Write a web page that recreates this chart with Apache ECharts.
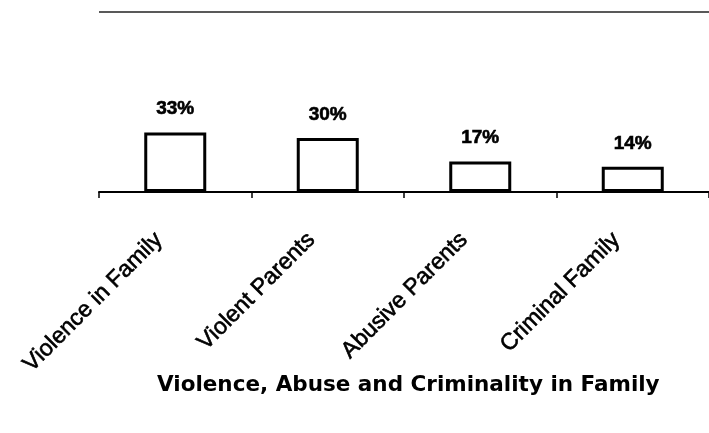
<!DOCTYPE html>
<html>
<head>
<meta charset="utf-8">
<script src="https://cdn.jsdelivr.net/npm/echarts@6/dist/echarts.min.js"></script>
<style>
  html, body { margin: 0; padding: 0; background: #fff; }
  #chart { width: 709px; height: 433px; }
</style>
</head>
<body>
<div id="chart"></div>
<script>
// Share of cases with each family background factor (percent)
const categories = ['Violence in Family', 'Violent Parents', 'Abusive Parents', 'Criminal Family'];
const percentValues = [33, 30, 17, 14];
const chartTitle = 'Violence, Abuse and Criminality in Family';

const chart = echarts.init(document.getElementById('chart'), null, { renderer: 'canvas' });

chart.setOption({
  animation: false,
  backgroundColor: '#ffffff',
  title: {
    text: chartTitle,
    left: 152,
    top: 369,
    textStyle: {
      fontFamily: 'DejaVu Sans',
      fontWeight: 'bold',
      fontSize: 21.5,
      color: '#000'
    }
  },
  grid: { left: 99, top: 12, width: 612, height: 180, containLabel: false },
  xAxis: {
    type: 'category',
    data: categories,
    boundaryGap: true,
    axisLine: { show: true, lineStyle: { color: '#000', width: 2 } },
    axisTick: { show: true, length: 6, lineStyle: { color: '#000', width: 1.5 } },
    axisLabel: {
      rotate: 45,
      interval: 0,
      margin: 28,
      padding: [0, 23, 0, 0],
      fontFamily: 'Liberation Sans, Arial, sans-serif',
      fontSize: 23,
      color: '#000',
      textBorderColor: '#000',
      textBorderWidth: 0.6
    }
  },
  yAxis: {
    type: 'value',
    min: 0,
    max: 100,
    interval: 100,
    axisLine: { show: false },
    axisTick: { show: false },
    axisLabel: { show: false },
    splitLine: { show: true, lineStyle: { color: '#222', width: 1.5 } }
  },
  series: [{
    type: 'bar',
    data: percentValues,
    barWidth: 62,
    itemStyle: { color: '#fff', borderColor: '#000', borderWidth: 3 },
    label: {
      show: true,
      position: 'top',
      distance: 14,
      formatter: p => p.value + '%',
      fontFamily: 'Liberation Sans, Arial, sans-serif',
      fontWeight: 'bold',
      fontSize: 19,
      color: '#000',
      textBorderColor: '#000',
      textBorderWidth: 0.6
    }
  }]
});
</script>
</body>
</html>
